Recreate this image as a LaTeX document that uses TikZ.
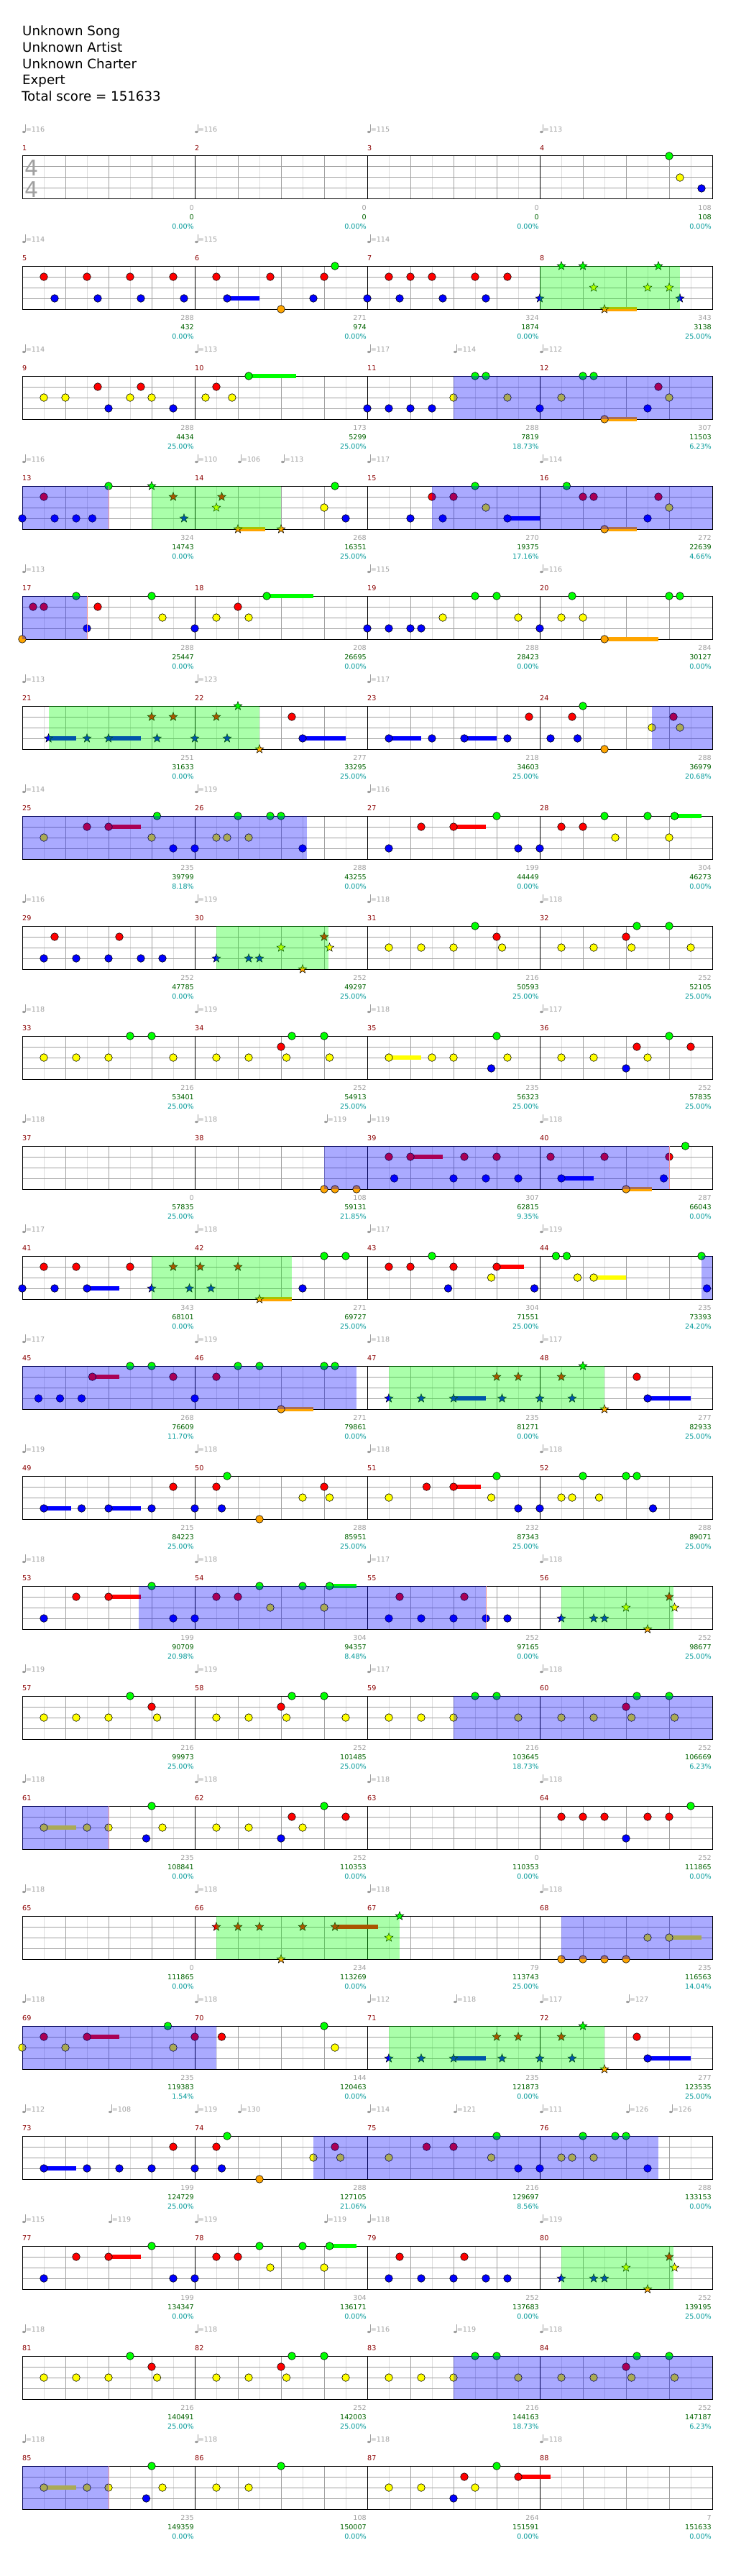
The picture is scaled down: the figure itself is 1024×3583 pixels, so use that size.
\documentclass[tikz,border=0pt]{standalone}
\usepackage{fontspec}
\setmainfont{DejaVu Sans}
\usetikzlibrary{shapes.geometric}
\definecolor{lgray}{RGB}{160,160,160}
\definecolor{sgreen}{RGB}{0,100,0}
\definecolor{pcyan}{RGB}{0,153,153}
\definecolor{mred}{RGB}{139,0,0}
\definecolor{gridmid}{RGB}{160,160,160}
\definecolor{gridlight}{RGB}{221,221,221}
\definecolor{salm}{RGB}{240,150,150}
\definecolor{lane0}{RGB}{0,255,0}
\definecolor{lane1}{RGB}{255,0,0}
\definecolor{lane2}{RGB}{255,255,0}
\definecolor{lane3}{RGB}{0,0,255}
\definecolor{lane4}{RGB}{255,165,0}
\tikzset{
  lab/.style={font=\fontsize{9.6}{11}\selectfont, inner sep=0pt},
  starn/.style={star, star points=5, star point ratio=2.4, minimum size=12.5pt, inner sep=0pt, draw=black, line width=0.5pt},
  notec/.style={draw=black, line width=0.6pt},
}
\newcommand\RowGrid[1]{%
  \foreach \k in {1,3,...,31} \draw[gridlight, line width=1pt] ({31+30*\k},0) -- ++(0,60);
  \foreach \k in {2,4,6,10,12,14,18,20,22,26,28,30} \draw[gridmid, line width=1pt] ({31+30*\k},0) -- ++(0,60);
  \foreach \k in {15,30,45} \draw[gridmid, line width=1pt] (31,\k) -- (991,\k);
  \foreach \k in {8,16,24} \draw[black, line width=1pt] ({31+30*\k},0) -- ++(0,60);
  \draw[black, line width=1pt] (31,0) rectangle (991,60);
  \foreach \c in {0,1,2,3} {\pgfmathtruncatemacro\mm{#1+\c}\node[lab, text=mred, anchor=west] at ({31+240*\c},-11) {\mm};}
}
\newcommand\Tp[2]{%
  \fill[lgray] ({31+15*#1+2.3},-33.5) ellipse (2.3 and 1.7);
  \draw[lgray, line width=0.8pt] ({31+15*#1+4.3},-33.5) -- ({31+15*#1+4.3},-44);
  \node[lab, text=lgray, anchor=west] at ({31+15*#1+4.6},-37) {=#2};}
\newcommand\Lb[4]{%
  \node[lab, text=lgray, anchor=east] at ({31+240*(#1+1)-1},72) {#2};
  \node[lab, text=sgreen, anchor=east] at ({31+240*(#1+1)-1},85) {#3};
  \node[lab, text=pcyan, anchor=east] at ({31+240*(#1+1)-1},98) {#4\%};}
\newcommand\Nt[2]{\filldraw[notec, fill=lane#2] ({31+15*#1},{15*#2}) circle (5.3);}
\newcommand\St[2]{\node[starn, fill=lane#2] at ({31+15*#1},{15*#2}) {};}
\newcommand\Nts[3]{\fill[lane#2] ({31+15*#1},{15*#2-3.2}) rectangle ({31+15*#3},{15*#2+3.2});\Nt{#1}{#2}}
\newcommand\Sts[3]{\fill[lane#2] ({31+15*#1},{15*#2-3.2}) rectangle ({31+15*#3},{15*#2+3.2});\St{#1}{#2}}
\newcommand\Br[2]{\fill[lane3, fill opacity=0.333] ({31+15*#1},0) rectangle ({31+15*#2},60);}
\newcommand\Gr[2]{\fill[lane0, fill opacity=0.333] ({31+15*#1},0) rectangle ({31+15*#2},60);}
\newcommand\Sl[1]{\draw[salm, line width=1pt] ({31+15*#1},0) -- ++(0,60);}
\newcommand\PatA{%
  \Nt{2}{2}\Nt{5}{2}\Nt{8}{2}\Nt{10}{0}\Nt{12}{1}\Nt{12.5}{2}
  \Nt{18}{2}\Nt{21}{2}\Nt{24}{1}\Nt{24.5}{2}\Nt{25}{0}\Nt{28}{0}\Nt{30}{2}
  \Nt{34}{2}\Nt{37}{2}\Nt{40}{2}\Nt{42}{0}\Nt{44}{0}\Nt{46}{2}
  \Nt{50}{2}\Nt{53}{2}\Nt{56}{1}\Nt{56.5}{2}\Nt{57}{0}\Nt{60}{0}\Nt{60.5}{2}
  \Br{40}{64}}
\newcommand\PatB{%
  \St{34}{3}\St{37}{3}\Sts{40}{3}{43}\St{44}{1}\St{44.5}{3}\St{46}{1}\St{48}{3}\St{50}{1}\St{51}{3}\St{52}{0}\St{54}{4}
  \Nt{57}{1}\Nts{58}{3}{62}}
\newcommand\PatC{%
  \Nt{2}{3}\Nt{5}{1}\Nts{8}{1}{11}\Nt{12}{0}\Nt{14}{3}
  \Nt{16}{3}\Nt{18}{1}\Nt{20}{1}\Nt{22}{0}\Nt{23}{2}\Nt{26}{0}\Nt{28}{2}\Nts{28.5}{0}{31}
  \Nt{34}{3}\Nt{35}{1}\Nt{37}{3}\Nt{40}{3}\Nt{41}{1}\Nt{43}{3}\Nt{45}{3}
  \St{50}{3}\St{53}{3}\St{54}{3}\St{56}{2}\St{58}{4}\St{60}{1}\St{60.5}{2}}
\begin{document}
\begin{tikzpicture}[x=1pt, y=-1pt]
\useasboundingbox (0,0) rectangle (1024,3583);
\fill[white] (0,0) rectangle (1024,3583);
% header
\begin{scope}[every node/.style={anchor=base west, inner sep=0pt, font=\fontsize{18.2}{22}\selectfont}]
\node (t1) at (31,49.3) {Unknown Song};
\node (t2) at (31,72.2) {Unknown Artist};
\node (t3) at (31,95.1) {Unknown Charter};
\node (t4) at (31,118) {Expert};
\node (t5) at (30,140.8) {Total score = 151633};
\end{scope}
% row 0
\begin{scope}[shift={(0,217)}]
\RowGrid{1}
\node[anchor=base, inner sep=0pt, text=lgray, font=\fontsize{30}{30}\selectfont] (ts1) at (44,28) {4};
\node[anchor=base, inner sep=0pt, text=lgray, font=\fontsize{30}{30}\selectfont] (ts2) at (44,58) {4};
\Tp{0}{116}\Tp{16}{116}\Tp{32}{115}\Tp{48}{113}
\Lb{0}{0}{0}{0.00}\Lb{1}{0}{0}{0.00}\Lb{2}{0}{0}{0.00}\Lb{3}{108}{108}{0.00}
\Nt{60}{0}\Nt{61}{2}\Nt{63}{3}
\end{scope}
% row 1
\begin{scope}[shift={(0,370)}]
\RowGrid{5}
\Tp{0}{114}\Tp{16}{115}\Tp{32}{114}
\Lb{0}{288}{432}{0.00}\Lb{1}{271}{974}{0.00}\Lb{2}{324}{1874}{0.00}\Lb{3}{343}{3138}{25.00}
\Nt{2}{1}\Nt{6}{1}\Nt{10}{1}\Nt{14}{1}\Nt{3}{3}\Nt{7}{3}\Nt{11}{3}\Nt{15}{3}
\Nt{18}{1}\Nt{23}{1}\Nt{28}{1}\Nt{29}{0}\Nts{19}{3}{22}\Nt{27}{3}\Nt{32}{3}\Nt{24}{4}
\Nt{34}{1}\Nt{36}{1}\Nt{38}{1}\Nt{42}{1}\Nt{45}{1}\Nt{35}{3}\Nt{39}{3}\Nt{43}{3}
\St{48}{3}\St{50}{0}\St{52}{0}\St{53}{2}\Sts{54}{4}{57}\St{58}{2}\St{59}{0}\St{60}{2}\St{61}{3}
\Gr{48}{61}
\end{scope}
% row 2
\begin{scope}[shift={(0,523)}]
\RowGrid{9}
\Tp{0}{114}\Tp{16}{113}\Tp{32}{117}\Tp{40}{114}\Tp{48}{112}
\Lb{0}{288}{4434}{25.00}\Lb{1}{173}{5299}{25.00}\Lb{2}{288}{7819}{18.73}\Lb{3}{307}{11503}{6.23}
\Nt{2}{2}\Nt{4}{2}\Nt{7}{1}\Nt{8}{3}\Nt{10}{2}\Nt{11}{1}\Nt{12}{2}\Nt{14}{3}
\Nt{17}{2}\Nt{18}{1}\Nt{19.46}{2}\Nts{21}{0}{25.4}
\Nt{32}{3}\Nt{34}{3}\Nt{36}{3}\Nt{38}{3}\Nt{40}{2}\Nt{42}{0}\Nt{43}{0}\Nt{45}{2}
\Nt{48}{3}\Nt{50}{2}\Nt{52}{0}\Nt{53}{0}\Nts{54}{4}{57}\Nt{58}{3}\Nt{59}{1}\Nt{60}{2}
\Br{40}{64}
\end{scope}
% row 3
\begin{scope}[shift={(0,676)}]
\RowGrid{13}
\Tp{0}{116}\Tp{16}{110}\Tp{20}{106}\Tp{24}{113}\Tp{32}{117}\Tp{48}{114}
\Lb{0}{324}{14743}{0.00}\Lb{1}{268}{16351}{25.00}\Lb{2}{270}{19375}{17.16}\Lb{3}{272}{22639}{4.66}
\Nt{0}{3}\Nt{2}{1}\Nt{3}{3}\Nt{5}{3}\Nt{6.5}{3}\Nt{8}{0}
\St{12}{0}\St{14}{1}\St{15}{3}\St{18}{2}\St{18.5}{1}\Sts{20}{4}{22.5}\St{24}{4}
\Nt{28}{2}\Nt{29}{0}\Nt{30}{3}
\Nt{36}{3}\Nt{38}{1}\Nt{39}{3}\Nt{40}{1}\Nt{42}{0}\Nt{43}{2}\Nts{45}{3}{48}
\Nt{50.5}{0}\Nt{52}{1}\Nt{53}{1}\Nts{54}{4}{57}\Nt{58}{3}\Nt{59}{1}\Nt{60}{2}
\Br{0}{8}\Sl{8}\Gr{12}{24}\Br{38}{64}
\end{scope}
% row 4
\begin{scope}[shift={(0,829)}]
\RowGrid{17}
\Tp{0}{113}\Tp{32}{115}\Tp{48}{116}
\Lb{0}{288}{25447}{0.00}\Lb{1}{208}{26695}{0.00}\Lb{2}{288}{28423}{0.00}\Lb{3}{284}{30127}{0.00}
\Nt{0}{4}\Nt{1}{1}\Nt{2}{1}\Nt{5}{0}\Nt{6}{3}\Nt{7}{1}\Nt{12}{0}\Nt{13}{2}
\Nt{16}{3}\Nt{18}{2}\Nt{20}{1}\Nt{21}{2}\Nts{22.67}{0}{27}
\Nt{32}{3}\Nt{34}{3}\Nt{36}{3}\Nt{37}{3}\Nt{39}{2}\Nt{42}{0}\Nt{44}{0}\Nt{46}{2}
\Nt{48}{3}\Nt{50}{2}\Nt{51}{0}\Nt{52}{2}\Nts{54}{4}{59}\Nt{60}{0}\Nt{61}{0}
\Br{0}{6}\Sl{6}
\end{scope}
% row 5
\begin{scope}[shift={(0,982)}]
\RowGrid{21}
\Tp{0}{113}\Tp{16}{123}\Tp{32}{117}
\Lb{0}{251}{31633}{0.00}\Lb{1}{277}{33295}{25.00}\Lb{2}{218}{34603}{25.00}\Lb{3}{288}{36979}{20.68}
\Sts{2.44}{3}{5}\St{6}{3}\Sts{8}{3}{11}\St{12}{1}\St{12.5}{3}\St{14}{1}\St{16}{3}\St{18}{1}\St{19}{3}\St{20}{0}\St{22}{4}
\Nt{25}{1}\Nts{26}{3}{30}\Nts{34}{3}{37}\Nt{38}{3}\Nts{41}{3}{44}\Nt{45}{3}\Nt{47}{1}
\Nt{49}{3}\Nt{51}{1}\Nt{51.5}{3}\Nt{52}{0}\Nt{54}{4}\Nt{58.4}{2}\Nt{60.4}{1}\Nt{61}{2}
\Gr{2.44}{22}\Br{58.4}{64}
\end{scope}
% row 6
\begin{scope}[shift={(0,1135)}]
\RowGrid{25}
\Tp{0}{114}\Tp{16}{119}\Tp{32}{116}
\Lb{0}{235}{39799}{8.18}\Lb{1}{288}{43255}{0.00}\Lb{2}{199}{44449}{0.00}\Lb{3}{304}{46273}{0.00}
\Nt{2}{2}\Nt{6}{1}\Nts{8}{1}{11}\Nt{12}{2}\Nt{12.5}{0}\Nt{14}{3}\Nt{16}{3}\Nt{18}{2}\Nt{19}{2}\Nt{20}{0}\Nt{21}{2}\Nt{23}{0}\Nt{24}{0}\Nt{26}{3}
\Nt{34}{3}\Nt{37}{1}\Nts{40}{1}{43}\Nt{44}{0}\Nt{46}{3}\Nt{48}{3}\Nt{50}{1}\Nt{52}{1}\Nt{54}{0}\Nt{55}{2}\Nt{58}{0}\Nt{60}{2}\Nts{60.5}{0}{63}
\Br{0}{26.4}
\end{scope}
% row 7
\begin{scope}[shift={(0,1288)}]
\RowGrid{29}
\Tp{0}{116}\Tp{16}{119}\Tp{32}{118}\Tp{48}{118}
\Lb{0}{252}{47785}{0.00}\Lb{1}{252}{49297}{25.00}\Lb{2}{216}{50593}{25.00}\Lb{3}{252}{52105}{25.00}
\Nt{2}{3}\Nt{3}{1}\Nt{5}{3}\Nt{8}{3}\Nt{9}{1}\Nt{11}{3}\Nt{13}{3}
\St{18}{3}\St{21}{3}\St{22}{3}\St{24}{2}\St{26}{4}\St{28}{1}\St{28.5}{2}
\Nt{34}{2}\Nt{37}{2}\Nt{40}{2}\Nt{42}{0}\Nt{44}{1}\Nt{44.5}{2}
\Nt{50}{2}\Nt{53}{2}\Nt{56}{1}\Nt{56.5}{2}\Nt{57}{0}\Nt{60}{0}\Nt{62}{2}
\Gr{18}{28.4}
\end{scope}
% row 8
\begin{scope}[shift={(0,1441)}]
\RowGrid{33}
\Tp{0}{118}\Tp{16}{119}\Tp{32}{118}\Tp{48}{117}
\Lb{0}{216}{53401}{25.00}\Lb{1}{252}{54913}{25.00}\Lb{2}{235}{56323}{25.00}\Lb{3}{252}{57835}{25.00}
\Nt{2}{2}\Nt{5}{2}\Nt{8}{2}\Nt{10}{0}\Nt{12}{0}\Nt{14}{2}
\Nt{18}{2}\Nt{21}{2}\Nt{24}{1}\Nt{24.5}{2}\Nt{25}{0}\Nt{28}{0}\Nt{28.5}{2}
\Nts{34}{2}{37}\Nt{38}{2}\Nt{40}{2}\Nt{43.5}{3}\Nt{44}{0}\Nt{45}{2}
\Nt{50}{2}\Nt{53}{2}\Nt{56}{3}\Nt{57}{1}\Nt{58}{2}\Nt{60}{0}\Nt{62}{1}
\end{scope}
% row 9
\begin{scope}[shift={(0,1594)}]
\RowGrid{37}
\Tp{0}{118}\Tp{16}{118}\Tp{28}{119}\Tp{32}{119}\Tp{48}{118}
\Lb{0}{0}{57835}{25.00}\Lb{1}{108}{59131}{21.85}\Lb{2}{307}{62815}{9.35}\Lb{3}{287}{66043}{0.00}
\Nt{28}{4}\Nt{29}{4}\Nt{31}{4}
\Nt{34}{1}\Nt{34.5}{3}\Nts{36}{1}{39}\Nt{40}{3}\Nt{41}{1}\Nt{43}{3}\Nt{44}{1}\Nt{46}{3}
\Nt{49}{1}\Nts{50}{3}{53}\Nt{54}{1}\Nts{56}{4}{58.4}\Nt{59.5}{3}\Nt{60}{1}\Nt{61.5}{0}
\Br{28}{60}\Sl{60}
\end{scope}
% row 10
\begin{scope}[shift={(0,1747)}]
\RowGrid{41}
\Tp{0}{117}\Tp{16}{118}\Tp{32}{117}\Tp{48}{119}
\Lb{0}{343}{68101}{0.00}\Lb{1}{271}{69727}{25.00}\Lb{2}{304}{71551}{25.00}\Lb{3}{235}{73393}{24.20}
\Nt{0}{3}\Nt{2}{1}\Nt{3}{3}\Nt{5}{1}\Nts{6}{3}{9}\Nt{10}{1}
\St{12}{3}\St{14}{1}\St{15.5}{3}\St{16.5}{1}\St{17.5}{3}\St{20}{1}\Sts{22}{4}{25}
\Nt{26}{3}\Nt{28}{0}\Nt{30}{0}
\Nt{34}{1}\Nt{36}{1}\Nt{38}{0}\Nt{39.5}{3}\Nt{40}{1}\Nt{43.5}{2}\Nts{44}{1}{46.5}\Nt{47.5}{3}
\Nt{49.5}{0}\Nt{50.5}{0}\Nt{51.5}{2}\Nts{53}{2}{56}\Nt{63}{0}\Nt{63.5}{3}
\Gr{12}{25}\Br{63}{64}
\end{scope}
% row 11
\begin{scope}[shift={(0,1900)}]
\RowGrid{45}
\Tp{0}{117}\Tp{16}{119}\Tp{32}{118}\Tp{48}{117}
\Lb{0}{268}{76609}{11.70}\Lb{1}{271}{79861}{0.00}\Lb{2}{235}{81271}{0.00}\Lb{3}{277}{82933}{25.00}
\Nt{1.5}{3}\Nt{3.5}{3}\Nt{5.5}{3}\Nts{6.5}{1}{9}\Nt{10}{0}\Nt{12}{0}\Nt{14}{1}
\Nt{16}{3}\Nt{18}{1}\Nt{20}{0}\Nt{22}{0}\Nts{24}{4}{27}\Nt{28}{0}\Nt{29}{0}
\PatB
\Br{0}{31}\Gr{34}{54}
\end{scope}
% row 12
\begin{scope}[shift={(0,2053)}]
\RowGrid{49}
\Tp{0}{119}\Tp{16}{118}\Tp{32}{118}\Tp{48}{118}
\Lb{0}{215}{84223}{25.00}\Lb{1}{288}{85951}{25.00}\Lb{2}{232}{87343}{25.00}\Lb{3}{288}{89071}{25.00}
\Nts{2}{3}{4.5}\Nt{5.5}{3}\Nts{8}{3}{11}\Nt{12}{3}\Nt{14}{1}
\Nt{16}{3}\Nt{18}{1}\Nt{18.5}{3}\Nt{19}{0}\Nt{22}{4}\Nt{26}{2}\Nt{28}{1}\Nt{28.5}{2}
\Nt{34}{2}\Nt{37.5}{1}\Nts{40}{1}{42.5}\Nt{43.5}{2}\Nt{44}{0}\Nt{46}{3}
\Nt{48}{3}\Nt{50}{2}\Nt{51}{2}\Nt{52}{0}\Nt{53.5}{2}\Nt{56}{0}\Nt{57}{0}\Nt{58.5}{3}
\end{scope}
% row 13
\begin{scope}[shift={(0,2206)}]
\RowGrid{53}
\Tp{0}{118}\Tp{16}{118}\Tp{32}{117}\Tp{48}{118}
\Lb{0}{199}{90709}{20.98}\Lb{1}{304}{94357}{8.48}\Lb{2}{252}{97165}{0.00}\Lb{3}{252}{98677}{25.00}
\PatC
\Br{10.8}{43}\Sl{43}\Gr{50}{60.4}
\end{scope}
% row 14
\begin{scope}[shift={(0,2359)}]
\RowGrid{57}
\Tp{0}{119}\Tp{16}{119}\Tp{32}{117}\Tp{48}{118}
\Lb{0}{216}{99973}{25.00}\Lb{1}{252}{101485}{25.00}\Lb{2}{216}{103645}{18.73}\Lb{3}{252}{106669}{6.23}
\PatA
\end{scope}
% row 15
\begin{scope}[shift={(0,2512)}]
\RowGrid{61}
\Tp{0}{118}\Tp{16}{118}\Tp{32}{118}\Tp{48}{118}
\Lb{0}{235}{108841}{0.00}\Lb{1}{252}{110353}{0.00}\Lb{2}{0}{110353}{0.00}\Lb{3}{252}{111865}{0.00}
\Nts{2}{2}{5}\Nt{6}{2}\Nt{8}{2}\Nt{11.5}{3}\Nt{12}{0}\Nt{13}{2}
\Nt{18}{2}\Nt{21}{2}\Nt{24}{3}\Nt{25}{1}\Nt{26}{2}\Nt{28}{0}\Nt{30}{1}
\Nt{50}{1}\Nt{52}{1}\Nt{54}{1}\Nt{56}{3}\Nt{58}{1}\Nt{60}{1}\Nt{62}{0}
\Br{0}{8}\Sl{8}
\end{scope}
% row 16
\begin{scope}[shift={(0,2665)}]
\RowGrid{65}
\Tp{0}{118}\Tp{16}{118}\Tp{32}{118}\Tp{48}{118}
\Lb{0}{0}{111865}{0.00}\Lb{1}{234}{113269}{0.00}\Lb{2}{79}{113743}{25.00}\Lb{3}{235}{116563}{14.04}
\St{18}{1}\St{20}{1}\St{22}{1}\St{24}{4}\St{26}{1}\Sts{29}{1}{33}\St{34}{2}\St{35}{0}
\Nt{50}{4}\Nt{52}{4}\Nt{54}{4}\Nt{56}{4}\Nt{58}{2}\Nts{60}{2}{63}
\Gr{18}{35}\Br{50}{64}
\end{scope}
% row 17
\begin{scope}[shift={(0,2818)}]
\RowGrid{69}
\Tp{0}{118}\Tp{16}{118}\Tp{32}{112}\Tp{40}{118}\Tp{48}{117}\Tp{56}{127}
\Lb{0}{235}{119383}{1.54}\Lb{1}{144}{120463}{0.00}\Lb{2}{235}{121873}{0.00}\Lb{3}{277}{123535}{25.00}
\Nt{0}{2}\Nt{2}{1}\Nt{4}{2}\Nts{6}{1}{9}\Nt{13.5}{0}\Nt{14}{2}\Nt{16}{1}\Nt{18.5}{1}\Nt{28}{0}\Nt{29}{2}
\PatB
\Br{0}{18}\Gr{34}{54}
\end{scope}
% row 18
\begin{scope}[shift={(0,2971)}]
\RowGrid{73}
\Tp{0}{112}\Tp{8}{108}\Tp{16}{119}\Tp{20}{130}\Tp{32}{114}\Tp{40}{121}\Tp{48}{111}\Tp{56}{126}\Tp{60}{126}
\Lb{0}{199}{124729}{25.00}\Lb{1}{288}{127105}{21.06}\Lb{2}{216}{129697}{8.56}\Lb{3}{288}{133153}{0.00}
\Nts{2}{3}{5}\Nt{6}{3}\Nt{9}{3}\Nt{12}{3}\Nt{14}{1}
\Nt{16}{3}\Nt{18}{1}\Nt{18.5}{3}\Nt{19}{0}\Nt{22}{4}\Nt{27}{2}\Nt{29}{1}\Nt{29.5}{2}
\Nt{34}{2}\Nt{37.5}{1}\Nt{40}{1}\Nt{43.5}{2}\Nt{44}{0}\Nt{46}{3}
\Nt{48}{3}\Nt{50}{2}\Nt{51}{2}\Nt{52}{0}\Nt{53}{2}\Nt{55}{0}\Nt{56}{0}\Nt{58}{3}
\Br{27}{59}
\end{scope}
% row 19
\begin{scope}[shift={(0,3124)}]
\RowGrid{77}
\Tp{0}{115}\Tp{8}{119}\Tp{16}{119}\Tp{28}{119}\Tp{32}{118}\Tp{48}{119}
\Lb{0}{199}{134347}{0.00}\Lb{1}{304}{136171}{0.00}\Lb{2}{252}{137683}{0.00}\Lb{3}{252}{139195}{25.00}
\PatC
\Gr{50}{60.4}
\end{scope}
% row 20
\begin{scope}[shift={(0,3277)}]
\RowGrid{81}
\Tp{0}{118}\Tp{16}{118}\Tp{32}{116}\Tp{40}{119}\Tp{48}{118}
\Lb{0}{216}{140491}{25.00}\Lb{1}{252}{142003}{25.00}\Lb{2}{216}{144163}{18.73}\Lb{3}{252}{147187}{6.23}
\PatA
\end{scope}
% row 21
\begin{scope}[shift={(0,3430)}]
\RowGrid{85}
\Tp{0}{118}\Tp{16}{118}\Tp{32}{118}\Tp{48}{118}
\Lb{0}{235}{149359}{0.00}\Lb{1}{108}{150007}{0.00}\Lb{2}{264}{151591}{0.00}\Lb{3}{7}{151633}{0.00}
\Nts{2}{2}{5}\Nt{6}{2}\Nt{8}{2}\Nt{11.5}{3}\Nt{12}{0}\Nt{13}{2}
\Nt{18}{2}\Nt{21}{2}\Nt{24}{0}
\Nt{34}{2}\Nt{37}{2}\Nt{40}{3}\Nt{41}{1}\Nt{42}{2}\Nt{44}{0}\Nts{46}{1}{49}
\Br{0}{8}\Sl{8}
\end{scope}
\end{tikzpicture}
\end{document}
